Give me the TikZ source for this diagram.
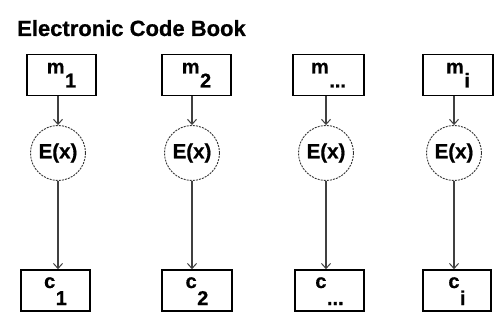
\documentclass[tikz,border=0pt]{standalone}
\usepackage{fontspec}
\setmainfont{Liberation Sans}[BoldFeatures={FakeBold=0.6}]
\usetikzlibrary{arrows.meta}
% lowered index text, set at full size below the letter
\newcommand\subdrop[2]{\kern0.5pt\raisebox{-#1}{#2}}
\begin{document}
\begin{tikzpicture}[x=1pt,y=-1pt,
  blockbox/.style={draw=black, line width=1.6pt, minimum width=69pt,
    minimum height=41pt, inner sep=0pt,
    font=\fontsize{20}{20}\selectfont\bfseries},
  plainbox/.style={blockbox, text height=11pt, text depth=14pt},
  cipherbox/.style={blockbox, text height=12pt, text depth=17pt},
  enc/.style={circle, draw=black!80, line width=0.9pt,
    dash pattern=on 2pt off 1.1pt, minimum size=55pt, inner sep=0pt,
    font=\fontsize{20.5}{20.5}\selectfont\bfseries},
  flow/.style={draw=black!75, line width=1.3pt,
    -{Straight Barb[length=5pt,width=9pt,line width=1pt]}},
  heading/.style={anchor=base west, inner sep=0pt,
    font=\fontsize{22}{22}\selectfont\bfseries}]

\path[use as bounding box, fill=white] (0,0) rectangle (494,320);

\node[heading] (title) at (17,36) {Electronic Code Book};

% plaintext blocks
\node[plainbox] (m1) at (61.5,75) {m\subdrop{14pt}{1}};
\node[plainbox] (m2) at (196.5,75) {m\subdrop{14pt}{2}};
\node[plainbox, minimum width=71pt] (m3) at (328.5,75) {m\subdrop{14pt}{...}};
\node[plainbox, minimum width=70pt] (m4) at (458,75) {m\subdrop{14pt}{i}};

% encryption steps
\node[enc] (e1) at (58,153) {E(x)};
\node[enc] (e2) at (192,153) {E(x)};
\node[enc] (e3) at (326,153) {E(x)};
\node[enc] (e4) at (454,153) {E(x)};

% ciphertext blocks
\node[cipherbox] (c1) at (55.5,290.5) {c\subdrop{17pt}{1}};
\node[cipherbox, minimum width=70pt] (c2) at (197,290.5) {c\subdrop{17pt}{2}};
\node[cipherbox] (c3) at (329.5,290.5) {c\subdrop{17pt}{...}};
\node[cipherbox, minimum width=68pt] (c4) at (457,290.5) {c\subdrop{17pt}{i}};

% connectors
\foreach \k in {1,2,3,4}{
  \draw[flow] (m\k.south -| e\k.north) -- (e\k.north);
  \draw[flow] (e\k.south) -- (e\k.south |- c\k.north);
}
\end{tikzpicture}
\end{document}
